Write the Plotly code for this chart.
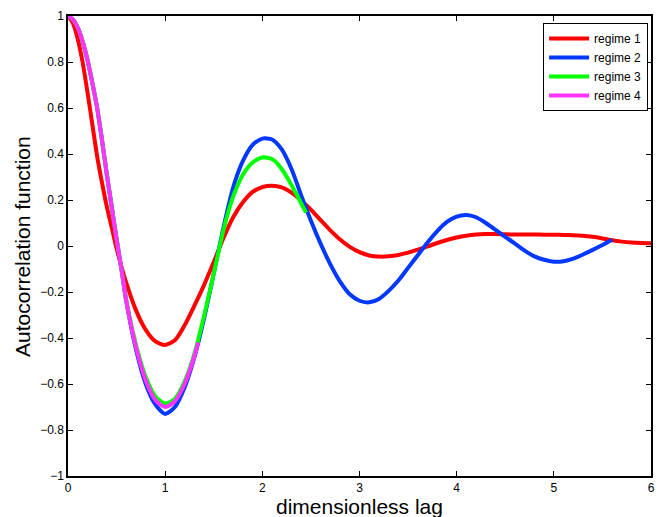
import plotly.graph_objects as go

# ---- data ----
x_r1 = [0, 0.05, 0.1, 0.15, 0.2, 0.25, 0.3, 0.35, 0.4, 0.45, 0.5, 0.55, 0.6, 0.7, 0.8, 0.9, 1.0,
        1.1, 1.2, 1.3, 1.4, 1.5, 1.6, 1.7, 1.8, 1.9, 2.0, 2.1, 2.2, 2.3, 2.4, 2.5, 2.6, 2.7, 2.8,
        2.9, 3.0, 3.1, 3.2, 3.3, 3.4, 3.5, 3.6, 3.7, 3.8, 3.9, 4.0, 4.1, 4.2, 4.3, 4.4, 4.5, 4.6,
        4.7, 4.8, 4.9, 5.0, 5.1, 5.2, 5.3, 5.4, 5.5, 5.6, 5.7, 5.8, 5.9, 6.0]
y_r1 = [1.0, 0.97, 0.9, 0.8, 0.67, 0.53, 0.39, 0.275, 0.17, 0.08, -0.01, -0.09, -0.16, -0.28, -0.365, -0.415, -0.43,
        -0.41, -0.345, -0.26, -0.17, -0.07, 0.035, 0.125, 0.19, 0.235, 0.256, 0.262, 0.255, 0.232, 0.198, 0.158, 0.112, 0.068, 0.028,
        -0.004, -0.027, -0.041, -0.046, -0.045, -0.039, -0.029, -0.016, -0.002, 0.013, 0.026, 0.037, 0.045, 0.05, 0.052, 0.052, 0.051, 0.05,
        0.05, 0.05, 0.049, 0.049, 0.048, 0.047, 0.045, 0.04, 0.033, 0.025, 0.019, 0.015, 0.013, 0.012]

x_r2 = [0, 0.05, 0.1, 0.15, 0.2, 0.25, 0.3, 0.35, 0.4, 0.45, 0.5, 0.55, 0.6, 0.7, 0.8, 0.9, 1.0,
        1.1, 1.2, 1.3, 1.4, 1.5, 1.6, 1.7, 1.8, 1.9, 2.0, 2.1, 2.2, 2.3, 2.4, 2.5, 2.6, 2.7, 2.8,
        2.9, 3.0, 3.1, 3.2, 3.3, 3.4, 3.5, 3.6, 3.7, 3.8, 3.9, 4.0, 4.1, 4.2, 4.3, 4.4, 4.5, 4.6,
        4.7, 4.8, 4.9, 5.0, 5.1, 5.2, 5.3, 5.4, 5.5, 5.6]
y_r2 = [1.0, 0.985, 0.95, 0.89, 0.81, 0.71, 0.6, 0.46, 0.31, 0.17, 0.03, -0.1, -0.24, -0.45, -0.6, -0.69, -0.73,
        -0.70, -0.615, -0.485, -0.315, -0.12, 0.08, 0.255, 0.37, 0.44, 0.467, 0.463, 0.42, 0.335, 0.22, 0.11, 0.01, -0.08, -0.155,
        -0.21, -0.238, -0.245, -0.23, -0.195, -0.15, -0.095, -0.04, 0.015, 0.065, 0.105, 0.128, 0.135, 0.125, 0.1, 0.07, 0.04, 0.01,
        -0.02, -0.045, -0.06, -0.068, -0.066, -0.055, -0.037, -0.017, 0.004, 0.027]

x_r3 = [0, 0.05, 0.1, 0.15, 0.2, 0.25, 0.3, 0.35, 0.4, 0.45, 0.5, 0.55, 0.6, 0.7, 0.8, 0.9, 1.0,
        1.1, 1.2, 1.3, 1.4, 1.5, 1.6, 1.7, 1.8, 1.9, 2.0, 2.1, 2.2, 2.3, 2.4, 2.45]
y_r3 = [1.0, 0.985, 0.95, 0.89, 0.81, 0.71, 0.6, 0.46, 0.31, 0.17, 0.03, -0.1, -0.24, -0.43, -0.57, -0.655, -0.685,
        -0.665, -0.59, -0.47, -0.305, -0.12, 0.07, 0.215, 0.31, 0.363, 0.385, 0.378, 0.335, 0.265, 0.185, 0.145]

x_r4 = [0, 0.05, 0.1, 0.15, 0.2, 0.25, 0.3, 0.35, 0.4, 0.45, 0.5, 0.55, 0.6, 0.7, 0.8, 0.9, 1.0,
        1.1, 1.2, 1.3, 1.34]
y_r4 = [1.0, 0.985, 0.95, 0.89, 0.81, 0.71, 0.6, 0.46, 0.31, 0.17, 0.03, -0.1, -0.24, -0.44, -0.585, -0.67, -0.70,
        -0.675, -0.6, -0.48, -0.42]

series = [
    ("regime 1", x_r1, y_r1, "#ff0000"),
    ("regime 2", x_r2, y_r2, "#0038ff"),
    ("regime 3", x_r3, y_r3, "#00ff00"),
    ("regime 4", x_r4, y_r4, "#ff33ff"),
]

x_ticks = [0, 1, 2, 3, 4, 5, 6]
y_ticks = [-1, -0.8, -0.6, -0.4, -0.2, 0, 0.2, 0.4, 0.6, 0.8, 1]
y_ticktext = ["\u22121", "\u22120.8", "\u22120.6", "\u22120.4", "\u22120.2", "0", "0.2", "0.4", "0.6", "0.8", "1"]
x_title = "dimensionless lag"
y_title = "Autocorrelation function"

fig = go.Figure()
for name, xs, ys, col in series:
    fig.add_trace(go.Scatter(x=xs, y=ys, mode="lines", name=name,
                             line=dict(color=col, width=4, shape="spline", smoothing=0.7)))

font_family = "Liberation Sans, Arial, sans-serif"
axis_common = dict(showline=True, linecolor="black", linewidth=1.5, mirror="ticks",
                   ticks="inside", ticklen=5, tickwidth=1, tickcolor="black",
                   showgrid=False, zeroline=False, automargin=False,
                   ticklabeloverflow="allow",
                   tickfont=dict(family=font_family, size=12, color="black"))

fig.update_xaxes(range=[0, 6], tickvals=x_ticks, **axis_common)
fig.update_yaxes(range=[-1, 1], tickvals=y_ticks, ticktext=y_ticktext, **axis_common)

fig.add_annotation(text=x_title, xref="paper", yref="paper", x=0.5, y=-0.066,
                   xanchor="center", yanchor="middle", showarrow=False,
                   font=dict(family=font_family, size=21, color="black"))
fig.add_annotation(text=y_title, xref="paper", yref="paper", x=-0.079, y=0.5,
                   xanchor="center", yanchor="middle", showarrow=False, textangle=-90,
                   font=dict(family=font_family, size=21, color="black"))

fig.update_layout(
    width=660, height=517,
    margin=dict(l=68, r=9, t=16, b=41, autoexpand=False),
    paper_bgcolor="white", plot_bgcolor="white",
    font=dict(family=font_family, color="black"),
    legend=dict(x=0.995, y=0.985, xanchor="right", yanchor="top",
                bordercolor="black", borderwidth=1, bgcolor="white",
                font=dict(family=font_family, size=12, color="black"),
                tracegroupgap=0, itemwidth=40),
)

fig.write_html("out.html", config={"displayModeBar": False},
               post_script="document.body.style.margin='0';document.body.style.overflow='hidden';")
